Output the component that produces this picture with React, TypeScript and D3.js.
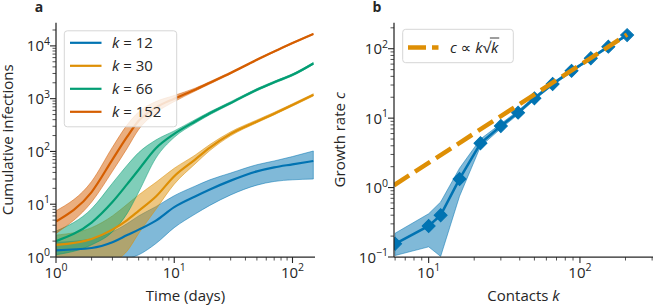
import * as d3 from "d3";
import { useEffect, useRef } from "react";

// panel a: cumulative infections over time, one band per contact number k
const days = [1, 2, 3, 4, 5, 7, 10, 15, 20, 30, 50, 70, 100, 150];

const k12Mid = [1.34, 1.48, 1.9, 2.6, 3.3, 4.9, 8.8, 14, 19, 28, 42, 50, 57, 66];
const k12Hi = [1.9, 2.2, 3.0, 4.3, 6.0, 9.0, 14.5, 22, 29, 39, 56, 66, 80, 102];
const k12Lo = [0.6, 0.7, 0.8, 0.92, 1.1, 1.8, 3.6, 6.5, 9.5, 15, 23, 27, 29, 30];

const k30Mid = [1.69, 2.2, 3.3, 5.0, 7.5, 14, 34, 70, 118, 215, 370, 520, 760, 1180];
const k30Hi = [2.6, 3.6, 6.0, 10, 15, 26, 48, 85, 135, 235, 395, 550, 800, 1240];
const k30Lo = [0.5, 0.6, 0.8, 1.3, 2.8, 8, 24, 58, 104, 198, 350, 495, 725, 1120];

const k66Mid = [2.0, 4.5, 11, 24, 45, 115, 215, 370, 530, 830, 1480, 2050, 2830, 4650];
const k66Hi = [3.1, 8.2, 25, 55, 95, 165, 245, 400, 565, 875, 1550, 2140, 2950, 4850];
const k66Lo = [1.1, 1.7, 3.0, 6.7, 17, 75, 185, 342, 497, 790, 1410, 1960, 2710, 4450];

const k152Mid = [4.7, 17, 70, 190, 380, 680, 1000, 1480, 2000, 3070, 5470, 7800, 11300, 16800];
const k152Hi = [7.5, 27, 120, 320, 560, 880, 1150, 1580, 2100, 3200, 5650, 8000, 11600, 17200];
const k152Lo = [2.8, 11, 42, 115, 260, 540, 880, 1390, 1900, 2950, 5300, 7600, 11000, 16400];

const legendKs = ["12", "30", "66", "152"];
const colorsA = ["#0173b2", "#de8f05", "#029e73", "#d55e00"];

// panel b: growth rate vs contacts
const contacts = [6, 10, 12, 16, 22, 30, 39, 50, 66, 88, 118, 154, 205];
const growth = [0.155, 0.28, 0.4, 1.33, 4.35, 7.7, 12, 19.3, 31, 48, 73, 107, 157];
const growthHi = [0.22, 0.42, 0.62, 1.9, 5.0, 8.3, 12.8, 20.5, 32.5, 50, 76, 111, 162];
const growthLo = [0.105, 0.14, 0.102, 0.75, 3.9, 7.1, 11.3, 18.3, 29.5, 46, 70, 103, 152];
const fitK = [5.9, 205];
const fitC = [1.08, 160];

const FONT = "'Open Sans', 'DejaVu Sans', sans-serif";
const INK = "#262626";
const FS = 15;

const isMajor = (v: number) => {
    const l = Math.log10(v);
    return Math.abs(l - Math.round(l)) < 1e-6;
};

function powerLabel(text: any, v: number) {
    const e = Math.round(Math.log10(v));
    text.append("tspan").text("10");
    text.append("tspan")
        .attr("dy", -6.5)
        .attr("font-size", 10.5)
        .text(e < 0 ? "\u2212" + -e : String(e));
}

function bottomAxis(g: any, x: any, y0: number) {
    const [r0, r1] = x.range();
    const ax = g.append("g").attr("transform", `translate(0,${y0})`);
    x.ticks().forEach((v: number) => {
        const px = x(v);
        if (px < r0 - 0.5 || px > r1 + 0.5) return;
        const major = isMajor(v);
        ax.append("line")
            .attr("x1", px).attr("x2", px)
            .attr("y1", 0).attr("y2", major ? 6 : 3.5)
            .attr("stroke", INK).attr("stroke-width", major ? 1.1 : 0.8);
        if (major) {
            const t = ax.append("text")
                .attr("x", px).attr("y", 20.5)
                .attr("text-anchor", "middle")
                .attr("font-size", FS).attr("fill", INK);
            powerLabel(t, v);
        }
    });
    ax.append("line")
        .attr("x1", r0).attr("x2", r1)
        .attr("stroke", INK).attr("stroke-width", 1.25);
}

function leftAxis(g: any, y: any, x0: number) {
    const [r0, r1] = y.range();
    const ax = g.append("g").attr("transform", `translate(${x0},0)`);
    y.ticks().forEach((v: number) => {
        const py = y(v);
        if (py > r0 + 0.5 || py < r1 - 0.5) return;
        const major = isMajor(v);
        ax.append("line")
            .attr("y1", py).attr("y2", py)
            .attr("x1", 0).attr("x2", major ? -6 : -3.5)
            .attr("stroke", INK).attr("stroke-width", major ? 1.1 : 0.8);
        if (major) {
            const t = ax.append("text")
                .attr("x", -6).attr("y", py + 5.5)
                .attr("text-anchor", "end")
                .attr("font-size", FS).attr("fill", INK);
            powerLabel(t, v);
        }
    });
    ax.append("line")
        .attr("y1", r0).attr("y2", r1)
        .attr("stroke", INK).attr("stroke-width", 1.25);
}

export default function App() {
    const svgRef = useRef<SVGSVGElement | null>(null);

    useEffect(() => {
        if (!svgRef.current) return;
        const svg = d3.select(svgRef.current);
        svg.selectAll("*").remove();

        const top = 22.7;
        const bottom = 257;

        // ---------- panel a ----------
        const xa = d3.scaleLog().domain([1, 155]).range([56, 315]);
        const ya = d3.scaleLog().domain([1, 27500]).range([bottom, top]);

        svg.append("clipPath").attr("id", "clipA")
            .append("rect")
            .attr("x", 56).attr("y", top)
            .attr("width", 315 - 56).attr("height", bottom - top);

        const seriesA = [
            { mid: k12Mid, lo: k12Lo, hi: k12Hi },
            { mid: k30Mid, lo: k30Lo, hi: k30Hi },
            { mid: k66Mid, lo: k66Lo, hi: k66Hi },
            { mid: k152Mid, lo: k152Lo, hi: k152Hi },
        ];

        const ga = svg.append("g").attr("clip-path", "url(#clipA)");

        seriesA.forEach((s, si) => {
            const area = d3.area<number>()
                .x((_, i) => xa(days[i]))
                .y0((_, i) => ya(s.lo[i]))
                .y1((_, i) => ya(s.hi[i]))
                .curve(d3.curveMonotoneX);
            ga.append("path")
                .datum(s.mid)
                .attr("d", area)
                .attr("fill", colorsA[si])
                .attr("fill-opacity", 0.5)
                .attr("stroke", colorsA[si])
                .attr("stroke-opacity", 0.5)
                .attr("stroke-width", 1);
        });

        seriesA.forEach((s, si) => {
            const line = d3.line<number>()
                .x((_, i) => xa(days[i]))
                .y((d) => ya(d))
                .curve(d3.curveMonotoneX);
            ga.append("path")
                .datum(s.mid)
                .attr("d", line)
                .attr("fill", "none")
                .attr("stroke", colorsA[si])
                .attr("stroke-width", 2.2);
        });

        leftAxis(svg, ya, 56);
        bottomAxis(svg, xa, bottom);

        // legend a
        const la = svg.append("g").attr("font-family", FONT);
        la.append("rect")
            .attr("x", 64.3).attr("y", 30.8)
            .attr("width", 112.4).attr("height", 96)
            .attr("rx", 3)
            .attr("fill", "#fff").attr("fill-opacity", 0.8)
            .attr("stroke", "#d6d6d6").attr("stroke-width", 1);
        legendKs.forEach((k, i) => {
            const ry = 42.8 + i * 23;
            la.append("line")
                .attr("x1", 70).attr("x2", 101.5)
                .attr("y1", ry).attr("y2", ry)
                .attr("stroke", colorsA[i]).attr("stroke-width", 2.2);
            const t = la.append("text")
                .attr("x", 112).attr("y", ry + 5.5)
                .attr("font-size", FS).attr("fill", INK);
            t.append("tspan").attr("font-style", "italic").text("k");
            t.append("tspan").text(` = ${k}`);
        });

        svg.append("text")
            .attr("x", 185.5).attr("y", 301)
            .attr("text-anchor", "middle")
            .attr("font-size", FS).attr("fill", INK)
            .text("Time (days)");
        svg.append("text")
            .attr("transform", `translate(12.5,${(top + bottom) / 2}) rotate(-90)`)
            .attr("text-anchor", "middle")
            .attr("font-size", FS).attr("fill", INK)
            .text("Cumulative infections");
        svg.append("text")
            .attr("x", 39).attr("y", 11.5)
            .attr("text-anchor", "middle")
            .attr("font-size", 14).attr("font-weight", "bold").attr("fill", INK)
            .text("a");

        // ---------- panel b ----------
        const xb = d3.scaleLog().domain([5.9, 304]).range([394, 653]);
        const yb = d3.scaleLog().domain([0.1, 237]).range([bottom, top]);

        svg.append("clipPath").attr("id", "clipB")
            .append("rect")
            .attr("x", 394).attr("y", top)
            .attr("width", 653 - 394).attr("height", bottom - top);

        const gb = svg.append("g").attr("clip-path", "url(#clipB)");

        const bandB = d3.area<number>()
            .x((_, i) => xb(contacts[i]))
            .y0((_, i) => yb(growthLo[i]))
            .y1((_, i) => yb(growthHi[i]));
        gb.append("path")
            .datum(growth)
            .attr("d", bandB)
            .attr("fill", "#0173b2").attr("fill-opacity", 0.5)
            .attr("stroke", "#0173b2").attr("stroke-opacity", 0.5)
            .attr("stroke-width", 1);

        const lineB = d3.line<number>()
            .x((_, i) => xb(contacts[i]))
            .y((d) => yb(d));
        gb.append("path")
            .datum(growth)
            .attr("d", lineB)
            .attr("fill", "none")
            .attr("stroke", "#0173b2").attr("stroke-width", 2.5);

        const diamond = d3.symbol().type(d3.symbolSquare).size(84);
        gb.selectAll("path.mk")
            .data(growth)
            .join("path")
            .attr("class", "mk")
            .attr("d", diamond() as string)
            .attr("transform", (d, i) => `translate(${xb(contacts[i])},${yb(d)}) rotate(45)`)
            .attr("fill", "#0173b2")
            .attr("stroke", "#0173b2").attr("stroke-width", 1);

        const fitLine = d3.line<number>()
            .x((_, i) => xb(fitK[i]))
            .y((d) => yb(d));
        gb.append("path")
            .datum(fitC)
            .attr("d", fitLine)
            .attr("fill", "none")
            .attr("stroke", "#de8f05").attr("stroke-width", 4.5)
            .attr("stroke-dasharray", "18,7");

        leftAxis(svg, yb, 394);
        bottomAxis(svg, xb, bottom);

        // legend b
        const lb = svg.append("g").attr("font-family", FONT);
        lb.append("rect")
            .attr("x", 402.7).attr("y", 29.3)
            .attr("width", 110.6).attr("height", 33.4)
            .attr("rx", 3)
            .attr("fill", "#fff").attr("fill-opacity", 0.8)
            .attr("stroke", "#d6d6d6").attr("stroke-width", 1);
        lb.append("line")
            .attr("x1", 408).attr("x2", 438.5)
            .attr("y1", 47.5).attr("y2", 47.5)
            .attr("stroke", "#de8f05").attr("stroke-width", 4.5)
            .attr("stroke-dasharray", "18,6");
        const ft = lb.append("text")
            .attr("x", 450).attr("y", 53)
            .attr("font-size", FS).attr("fill", INK);
        ft.append("tspan").attr("font-style", "italic").text("c");
        ft.append("tspan").text(" \u221d ");
        ft.append("tspan").attr("font-style", "italic").text("k");
        ft.append("tspan").text("\u221a");
        ft.append("tspan").attr("font-style", "italic").text("k");
        const node = ft.node() as SVGTextElement;
        const n = node.getNumberOfChars();
        const xs = node.getEndPositionOfChar(n - 2).x - 1;
        const xe = node.getEndPositionOfChar(n - 1).x + 1;
        lb.append("line")
            .attr("x1", xs).attr("x2", xe)
            .attr("y1", 38).attr("y2", 38)
            .attr("stroke", INK).attr("stroke-width", 0.9);

        svg.append("text")
            .attr("x", 523.5).attr("y", 301)
            .attr("text-anchor", "middle")
            .attr("font-size", FS).attr("fill", INK)
            .call((t: any) => {
                t.append("tspan").text("Contacts ");
                t.append("tspan").attr("font-style", "italic").text("k");
            });
        svg.append("text")
            .attr("transform", `translate(345,${(top + bottom) / 2}) rotate(-90)`)
            .attr("text-anchor", "middle")
            .attr("font-size", FS).attr("fill", INK)
            .call((t: any) => {
                t.append("tspan").text("Growth rate ");
                t.append("tspan").attr("font-style", "italic").text("c");
            });
        svg.append("text")
            .attr("x", 377).attr("y", 11.5)
            .attr("text-anchor", "middle")
            .attr("font-size", 14).attr("font-weight", "bold").attr("fill", INK)
            .text("b");
    }, []);

    return (
        <svg
            ref={svgRef}
            width={653}
            height={305}
            fontFamily="'Open Sans', 'DejaVu Sans', sans-serif"
            style={{ position: "absolute", left: 0, top: 0, background: "#fff" }}
        />
    );
}
